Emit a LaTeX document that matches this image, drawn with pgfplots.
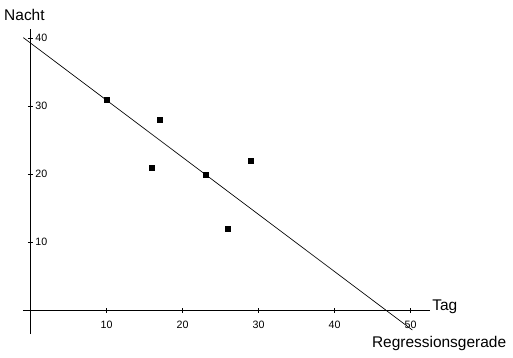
\documentclass[border=0pt]{standalone}
\usepackage{fontspec}
\setmainfont{Liberation Sans}
\usepackage{pgfplots}
\pgfplotsset{compat=1.18}
\begin{document}
\begin{tikzpicture}
\begin{axis}[
  anchor=origin, at={(0pt,0pt)},
  x=5.7pt, y=5.1pt,
  xmin=-1, xmax=52.6, ymin=-3.5, ymax=41.4,
  axis lines=middle,
  axis line style={-, line width=0.8pt},
  xtick={10,20,30,40,50}, ytick={10,20,30,40},
  tick align=center,
  major tick length=3.75pt,
  tick style={line width=0.8pt, black},
  /pgf/number format/assume math mode=true,
  ticklabel style={font=\fontsize{8}{9}\selectfont},
  xticklabel style={yshift=-3.0pt},
  yticklabel style={anchor=west, xshift=2.0pt},
  clip=false,
]
\addplot[black, line width=0.5pt] coordinates {(-0.95,40.1) (50.24,-2.9)};
\addplot[only marks, mark=square*, mark size=1.9pt, black] coordinates {
  (10,31) (16,21) (17,28) (23,20) (26,12) (29,22)
};
\node[anchor=base west, inner sep=0pt, font=\fontsize{11.6}{13}\selectfont] at (axis cs:-3.49,42.6) {Nacht};
\node[anchor=base west, inner sep=0pt, font=\fontsize{11.6}{13}\selectfont] at (axis cs:52.83,-0.1) {Tag};
\node[anchor=base west, inner sep=0pt, font=\fontsize{11.6}{13}\selectfont] at (axis cs:44.9,-5.44) {Regressionsgerade};
\end{axis}
\pgfresetboundingbox
\path[use as bounding box] (-22.875pt,-35.025pt) rectangle (361.875pt,232.725pt);
\end{tikzpicture}
\end{document}
